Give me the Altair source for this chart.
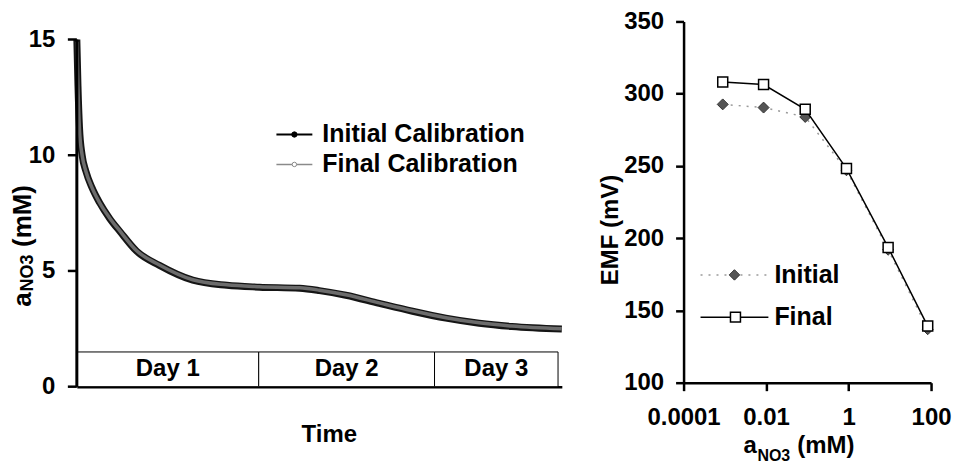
import altair as alt
import pandas as pd

FONT = "Liberation Sans"

# ---------------- Left panel data (a_NO3 vs time) ----------------
time_h = [0, 0.15, 0.35, 0.7, 1.2, 2.0, 3.0, 4.35, 5.7, 7.9, 10.9, 15.3, 19.8,
          24.1, 29.4, 32.0, 35.5, 39.9, 44.3, 48.7, 53.1, 57.4, 64.0]
initial_cal = [15.0, 13.0, 11.2, 10.0, 9.3, 8.6, 7.95, 7.26, 6.7, 5.85, 5.24, 4.6, 4.38,
               4.3, 4.25, 4.15, 3.95, 3.6, 3.26, 2.96, 2.74, 2.6, 2.49]
final_cal = [14.9, 12.9, 11.1, 10.0, 9.3, 8.6, 7.95, 7.28, 6.72, 5.87, 5.26, 4.62, 4.4,
             4.32, 4.27, 4.17, 3.97, 3.62, 3.28, 2.98, 2.76, 2.62, 2.5]

day_labels = ["Day 1", "Day 2", "Day 3"]
day_start = [0, 24, 47.2]
day_end = [24, 47.2, 63.5]
box_top = 1.5
left_ticks = [0, 5, 10, 15]

# ---------------- Right panel data (EMF vs a_NO3) ----------------
activity = [0.00089, 0.0087, 0.089, 0.89, 9.1, 83]
emf_initial = [292.6, 290.4, 283.9, 247.0, 192.0, 137.0]
emf_final = [308.1, 306.3, 289.2, 248.2, 193.6, 139.2]
right_xticks = [0.0001, 0.01, 1, 100]
right_yticks = [100, 150, 200, 250, 300, 350]

left_legend = ["Initial Calibration", "Final Calibration"]
right_legend = ["Initial", "Final"]

# ---------------- Left panel ----------------
curve = pd.DataFrame({"t": time_h, "ini": initial_cal, "fin": final_cal})
days = pd.DataFrame({"label": day_labels, "start": day_start, "end": day_end})
days["mid"] = (days["start"] + days["end"]) / 2
days["y0"] = 0.0
days["y1"] = box_top
days["ym"] = box_top / 2

xL = alt.Scale(domain=[0, 64], nice=False, zero=False)
yL = alt.Scale(domain=[0, 15.78], nice=False)

xL_axis = alt.Axis(domain=True, domainWidth=2.5, domainColor="black", ticks=False,
                   labels=False, title=None, grid=False)
yL_axis = alt.Axis(values=left_ticks, domain=False, ticks=False, tickSize=0,
                   labelPadding=22, title=None, grid=False,
                   labelFont=FONT, labelFontWeight="bold", labelFontSize=24,
                   labelColor="black")

# y-axis line from 0 to 15 (the axis domain itself is switched off)
yaxis_line = alt.Chart(pd.DataFrame({"x": [0], "a": [0], "b": [15]})).mark_rule(
    color="black", strokeWidth=3).encode(
    x=alt.X("x:Q", scale=xL, axis=xL_axis),
    y=alt.Y("a:Q", scale=yL, axis=yL_axis), y2="b:Q")

ytick_marks = alt.Chart(pd.DataFrame({"v": left_ticks})).mark_rule(
    color="black", strokeWidth=2.5).encode(
    x=alt.value(-9), x2=alt.value(0), y=alt.Y("v:Q", scale=yL, axis=yL_axis))

base_c = alt.Chart(curve)
line_ini = base_c.mark_line(color="#151515", strokeWidth=7, interpolate="monotone").encode(
    x=alt.X("t:Q", scale=xL, axis=xL_axis),
    y=alt.Y("ini:Q", scale=yL, axis=yL_axis),
)
line_fin = base_c.mark_line(color="#6c6c6c", strokeWidth=3.5, interpolate="monotone").encode(
    x=alt.X("t:Q", scale=xL, axis=xL_axis), y=alt.Y("fin:Q", scale=yL, axis=yL_axis)
)

boxes = alt.Chart(days).mark_rect(fill="white", stroke="black", strokeWidth=1).encode(
    x=alt.X("start:Q", scale=xL, axis=xL_axis), x2="end:Q",
    y=alt.Y("y0:Q", scale=yL, axis=yL_axis), y2="y1:Q")
box_text = alt.Chart(days).mark_text(font=FONT, fontWeight="bold", fontSize=24,
                                     baseline="middle", color="black").encode(
    x=alt.X("mid:Q", scale=xL, axis=xL_axis), y=alt.Y("ym:Q", scale=yL, axis=yL_axis),
    text="label:N")

one = pd.DataFrame({"k": [0]})

def txt(s, x, y, size, angle=0, align="left", baseline="alphabetic"):
    return alt.Chart(one).mark_text(text=s, font=FONT, fontWeight="bold", fontSize=size,
                                    angle=angle, align=align, baseline=baseline,
                                    color="black").encode(x=alt.value(x), y=alt.value(y))

def seg(x1, x2, y, color, width, dash=None):
    kw = dict(color=color, strokeWidth=width)
    if dash:
        kw["strokeDash"] = dash
    return alt.Chart(one).mark_rule(**kw).encode(x=alt.value(x1), x2=alt.value(x2), y=alt.value(y))

def pt(x, y, shape, size, fill, stroke, sw):
    return alt.Chart(one).mark_point(shape=shape, size=size, filled=True, fill=fill,
                                     stroke=stroke, strokeWidth=sw, opacity=1).encode(
        x=alt.value(x), y=alt.value(y))

# left legend
leg_L = [
    seg(200, 236, 113.3, "black", 2),
    pt(218, 113.3, "circle", 28, "black", "black", 1),
    txt(left_legend[0], 246, 113.3, 25, baseline="middle"),
    seg(200, 236, 143.3, "#8a8a8a", 1.5),
    pt(218, 143.3, "circle", 20, "white", "#8a8a8a", 1),
    txt(left_legend[1], 246, 143.3, 25, baseline="middle"),
]

# left titles
titles_L = [
    txt("Time", 253, 414.3, 24, baseline="middle", align="center"),
    txt("a", -46, 286, 26, angle=270),
    txt("NO3", -44, 270.5, 18, angle=270),
    txt("(mM)", -46, 226, 26, angle=270),
]

left = alt.layer(line_ini, line_fin, boxes, box_text,
                 *leg_L, *titles_L, yaxis_line, ytick_marks).properties(width=486, height=366)

# ---------------- Right panel ----------------
emf = pd.DataFrame({"a": activity, "ini": emf_initial, "fin": emf_final})
xR = alt.Scale(type="log", domain=[0.0001, 100], nice=False)
yR = alt.Scale(domain=[100, 350], nice=False, zero=False)
xR_axis = alt.Axis(values=right_xticks, format="~g", domainWidth=2.5,
                   domainColor="black", tickSize=8, tickWidth=2.5, tickColor="black",
                   labelPadding=15, title=None, grid=False, labelFont=FONT,
                   labelFontWeight="bold", labelFontSize=24, labelColor="black",
                   labelFlush=False)
yR_axis = alt.Axis(values=right_yticks, domainWidth=2.5,
                   domainColor="black", tickSize=8, tickWidth=2.5, tickColor="black",
                   labelPadding=12, title=None, grid=False, labelFont=FONT,
                   labelFontWeight="bold", labelFontSize=24, labelColor="black")

base_e = alt.Chart(emf)
r_ini_line = base_e.mark_line(color="#9a9a9a", strokeWidth=1.5, strokeDash=[2, 6]).encode(
    x=alt.X("a:Q", scale=xR, axis=xR_axis), y=alt.Y("ini:Q", scale=yR, axis=yR_axis))
r_ini_pts = base_e.mark_point(shape="diamond", size=120, filled=True, fill="#555555",
                              stroke="#333333", strokeWidth=1, opacity=1).encode(
    x=alt.X("a:Q", scale=xR, axis=xR_axis), y=alt.Y("ini:Q", scale=yR, axis=yR_axis))
r_fin_line = base_e.mark_line(color="black", strokeWidth=1.5).encode(
    x=alt.X("a:Q", scale=xR, axis=xR_axis), y=alt.Y("fin:Q", scale=yR, axis=yR_axis))
r_fin_pts = base_e.mark_point(shape="square", size=100, filled=True, fill="white",
                              stroke="black", strokeWidth=1.5, opacity=1).encode(
    x=alt.X("a:Q", scale=xR, axis=xR_axis), y=alt.Y("fin:Q", scale=yR, axis=yR_axis))

leg_R = [
    seg(17, 85, 254, "#9a9a9a", 1.5, dash=[2, 6]),
    pt(51, 254, "diamond", 110, "#555555", "#333333", 1),
    txt(right_legend[0], 91, 254, 25, baseline="middle"),
    seg(17, 85, 296.3, "black", 1.5),
    pt(52, 296.3, "square", 100, "white", "black", 1.5),
    txt(right_legend[1], 91, 296.3, 25, baseline="middle"),
]

titles_R = [
    txt("a", 60, 432, 24),
    txt("NO3", 74, 440, 16),
    txt("(mM)", 114, 432, 24),
    txt("EMF (mV)", -73, 209, 24, angle=270, align="center", baseline="middle"),
]

right = alt.layer(r_ini_line, r_ini_pts, r_fin_line, r_fin_pts, *leg_R, *titles_R).properties(
    width=248, height=362)

chart = alt.hconcat(left, right, spacing=122, bounds="flush").configure_view(
    stroke=None).properties(padding={"left": 10, "top": 9, "right": 5, "bottom": 5},
                            background="white")

chart.save("out.html", embed_options={"renderer": "svg", "actions": False})
